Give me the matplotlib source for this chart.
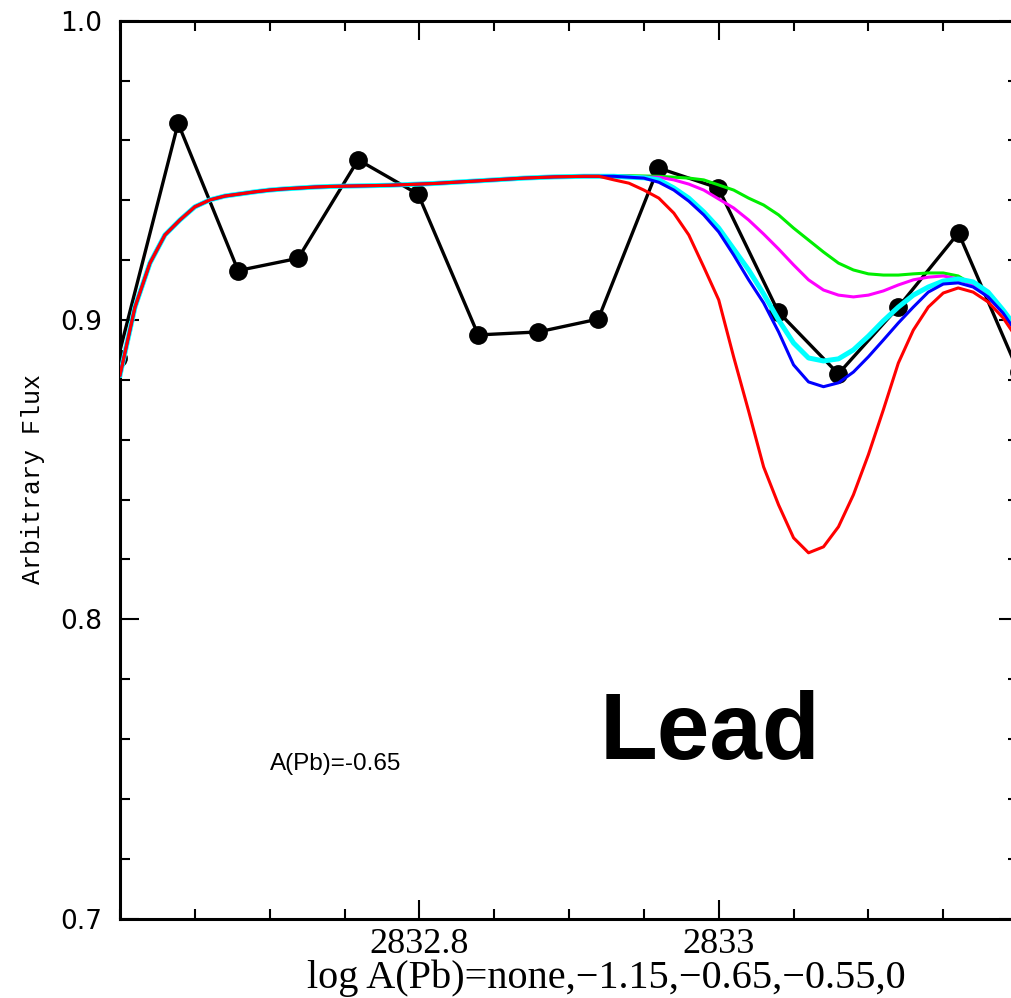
import numpy as np
import matplotlib
matplotlib.use("Agg")
import matplotlib.pyplot as plt
from matplotlib.ticker import MultipleLocator, FixedLocator

# observed spectrum (points)
obs_wave = [2832.5987, 2832.6388, 2832.6789, 2832.7190, 2832.7591, 2832.7992,
            2832.8393, 2832.8794, 2832.9195, 2832.9596, 2832.9997, 2833.0398,
            2833.0799, 2833.1200, 2833.1602, 2833.2003]
obs_flux = [0.8873, 0.9657, 0.9165, 0.9206, 0.9535, 0.9420,
            0.8950, 0.8960, 0.9003, 0.9508, 0.9441, 0.9027,
            0.8820, 0.9043, 0.9291, 0.8826]

# synthetic spectra, 0.01 A grid from 2832.60 to 2833.20
syn_wave = [round(2832.60 + 0.01 * k, 2) for k in range(61)]

# shared continuum part (2832.60 - 2832.92)
cont = [0.8816, 0.9043, 0.9190, 0.9284, 0.9334, 0.9378, 0.9401, 0.9414,
        0.9421, 0.9428, 0.9434, 0.9438, 0.9441, 0.9444, 0.9446, 0.9447,
        0.9448, 0.9449, 0.9450, 0.9452, 0.9454, 0.9456, 0.9459, 0.9462,
        0.9465, 0.9468, 0.9471, 0.9474, 0.9476, 0.9478, 0.9479, 0.9480,
        0.9480]

# line region 2832.93 - 2833.20
line_none = [0.9482, 0.9482, 0.9481, 0.9480, 0.9477, 0.9474, 0.9468, 0.9451,
             0.9434, 0.9407, 0.9384, 0.9351, 0.9307, 0.9267, 0.9227, 0.9190,
             0.9167, 0.9154, 0.9150, 0.9150, 0.9154, 0.9157, 0.9157, 0.9147,
             0.9117, 0.9077, 0.9027, 0.8960]
line_m115 = [0.9480, 0.9480, 0.9477, 0.9477, 0.9468, 0.9454, 0.9434, 0.9404,
             0.9374, 0.9334, 0.9287, 0.9237, 0.9184, 0.9134, 0.9100, 0.9083,
             0.9077, 0.9083, 0.9097, 0.9117, 0.9134, 0.9143, 0.9147, 0.9137,
             0.9117, 0.9077, 0.9023, 0.8957]
line_m065 = [0.9480, 0.9477, 0.9475, 0.9468, 0.9441, 0.9407, 0.9361, 0.9307,
             0.9237, 0.9167, 0.9087, 0.9000, 0.8923, 0.8873, 0.8863, 0.8870,
             0.8900, 0.8946, 0.8997, 0.9043, 0.9083, 0.9110, 0.9130, 0.9137,
             0.9127, 0.9093, 0.9033, 0.8967]
line_m055 = [0.9480, 0.9477, 0.9474, 0.9460, 0.9434, 0.9397, 0.9351, 0.9294,
             0.9217, 0.9134, 0.9057, 0.8960, 0.8850, 0.8793, 0.8777, 0.8790,
             0.8826, 0.8877, 0.8933, 0.8990, 0.9043, 0.9093, 0.9120, 0.9124,
             0.9110, 0.9077, 0.9023, 0.8950]
line_zero = [0.9468, 0.9457, 0.9434, 0.9407, 0.9357, 0.9284, 0.9177, 0.9067,
             0.8876, 0.8695, 0.8509, 0.8382, 0.8272, 0.8222, 0.8242, 0.8309,
             0.8416, 0.8550, 0.8700, 0.8856, 0.8966, 0.9043, 0.9090, 0.9107,
             0.9093, 0.9060, 0.9007, 0.8933]

models = [(line_none, "#00ee00", 2.2),
          (line_m115, "#ff00ff", 2.2),
          (line_m065, "#00ffff", 3.6),
          (line_m055, "#0000ff", 2.2),
          (line_zero, "#ff0000", 2.2)]

fig = plt.figure(figsize=(10.12, 9.98), dpi=100)
ax = fig.add_axes([0.1186, 0.0796, 0.8874, 0.8997])

ax.plot(obs_wave, obs_flux, color="black", lw=2.4, marker="o", ms=12.5,
        zorder=2)
for line, col, lw in models:
    ax.plot(syn_wave, cont + line, color=col, lw=lw, zorder=3)

ax.set_xlim(2832.6, 2833.2)
ax.set_ylim(0.7, 1.0)

ax.xaxis.set_major_locator(FixedLocator([2832.8, 2833.0]))
ax.xaxis.set_minor_locator(MultipleLocator(0.05))
ax.set_xticklabels(["2832.8", "2833"], family="Liberation Serif", fontsize=26)
ax.set_yticks([0.7, 0.8, 0.9, 1.0])
ax.yaxis.set_minor_locator(MultipleLocator(0.02))
ax.set_yticklabels(["0.7", "0.8", "0.9", "1.0"], family="DejaVu Sans",
                   fontsize=19)
ax.tick_params(which="both", direction="in", top=True, right=True, width=1.5)
ax.tick_params(which="major", length=14)
ax.tick_params(which="minor", length=7)
ax.tick_params(axis="y", pad=13)
ax.tick_params(axis="x", pad=7)
for s in ax.spines.values():
    s.set_linewidth(2.2)

ax.set_xlabel("log A(Pb)=none,\u22121.15,\u22120.65,\u22120.55,0",
              family="Liberation Serif", fontsize=29, va="top")
ax.xaxis.set_label_coords(0.542, -0.046)
ax.set_ylabel("Arbitrary Flux", family="Liberation Mono", fontsize=18,
              va="center")
ax.yaxis.set_label_coords(-0.097, 0.49)

ax.text(270, 998 - 764, "A(Pb)=-0.65", transform=None, fontsize=17.5,
        family="Liberation Sans", va="center", ha="left")
ax.text(600, 998 - 734, "Lead", transform=None, fontsize=68,
        family="Liberation Sans", weight="bold", va="center", ha="left")

fig.savefig("out.png", dpi=100)
